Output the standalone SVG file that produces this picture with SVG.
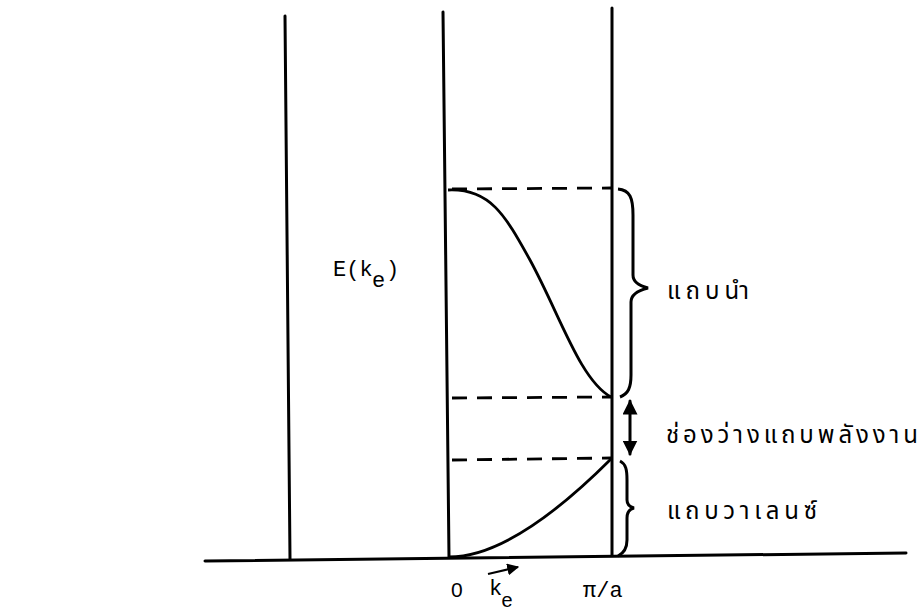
<svg xmlns="http://www.w3.org/2000/svg" width="922" height="614" viewBox="0 0 922 614">
<defs>
<style>
.ln{stroke:#000;stroke-width:3;fill:none;stroke-linecap:round}
.dash{stroke:#000;stroke-width:2.8;fill:none;stroke-dasharray:15 10}
.cv{stroke:#000;stroke-width:2.8;fill:none}
.br{stroke:#000;stroke-width:3;fill:none;stroke-linejoin:miter}
.t{font-family:"Liberation Mono","DejaVu Sans Mono",monospace;font-size:22px;fill:#000}
.zero{font-family:"Liberation Sans",Arial,sans-serif;font-size:21px;fill:#000}
.sub{font-size:20px}
.th{font-family:"Noto Sans Thai","Noto Sans","DejaVu Sans",sans-serif;font-size:24px;fill:#000}
</style>
<marker id="ah" viewBox="0 0 10 10" refX="9" refY="5" markerWidth="5" markerHeight="5" orient="auto-start-reverse">
<path d="M0,0 L10,5 L0,10 z" fill="#000"/>
</marker>
<marker id="ah2" viewBox="0 0 10 10" refX="9" refY="5" markerWidth="6" markerHeight="6" orient="auto">
<path d="M0,0 L10,5 L0,10 z" fill="#000"/>
</marker>
</defs>
<rect width="922" height="614" fill="#fff"/>
<g id="axes">
<line class="ln" x1="205" y1="561" x2="906" y2="553"/>
<line class="ln" x1="285" y1="16" x2="290" y2="559"/>
<line class="ln" x1="443" y1="12" x2="449" y2="557"/>
<line class="ln" x1="612" y1="8" x2="612" y2="555"/>
</g>
<g id="connectors">
<line class="dash" x1="452" y1="189" x2="611" y2="188"/>
<line class="dash" x1="452" y1="398" x2="611" y2="397"/>
<line class="dash" x1="452" y1="460" x2="611" y2="458"/>
<path class="cv" d="M448,190 C490,188 505,215 530,260 C560,315 580,380 611,397"/>
<path class="cv" d="M449,557 C500,557 560,510 611,459"/>
<line class="ln" x1="630" y1="401" x2="630" y2="454" marker-start="url(#ah)" marker-end="url(#ah)"/>
<path class="br" d="M618,189 C630,190 633,198 633,215 L633,275 C633,282 640,286 648,288 C640,290 631,294 631,302 L631,375 C631,388 628,394 620,397"/>
<path class="br" d="M620,461 C626,464 627,470 627,480 L627,500 C627,505 630,507 634,508 C630,509 627,512 627,518 L627,540 C627,548 624,553 618,556"/>
</g>
<g id="labels">
<text class="t" x="333" y="276">E(k</text>
<text class="t" x="372" y="287">e</text>
<text class="t" x="386" y="276">)</text>
<text class="th" x="667" y="299" textLength="82" lengthAdjust="spacing">แถบนำ</text>
<text class="th" x="666" y="443" textLength="252" lengthAdjust="spacing">ช่องว่างแถบพลังงาน</text>
<text class="th" x="667" y="519" textLength="150" lengthAdjust="spacing">แถบวาเลนซ์</text>
<text class="zero" x="451" y="597">0</text>
<line x1="488" y1="574" x2="518" y2="567" stroke="#000" stroke-width="2" marker-end="url(#ah2)"/>
<text class="t" x="489" y="595">k</text>
<text class="t sub" x="501" y="607">e</text>
<text class="t" x="583" y="597">π/a</text>
</g>
</svg>
